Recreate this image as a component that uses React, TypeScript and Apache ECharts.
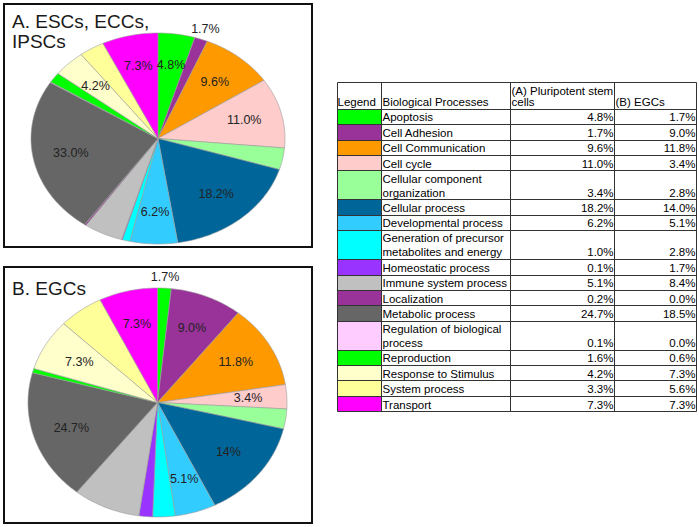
import React, { useEffect, useRef } from "react";
import * as echarts from "echarts";

// ---------- data ----------
const categories: string[] = [
  "Apoptosis",
  "Cell Adhesion",
  "Cell Communication",
  "Cell cycle",
  "Cellular component\norganization",
  "Cellular process",
  "Developmental process",
  "Generation of precursor\nmetabolites and energy",
  "Homeostatic process",
  "Immune system process",
  "Localization",
  "Metabolic process",
  "Regulation of biological\nprocess",
  "Reproduction",
  "Response to Stimulus",
  "System process",
  "Transport",
];

const valuesA: number[] = [4.8, 1.7, 9.6, 11.0, 3.4, 18.2, 6.2, 1.0, 0.1, 5.1, 0.2, 24.7, 0.1, 1.6, 4.2, 3.3, 7.3];
const valuesB: number[] = [1.7, 9.0, 11.8, 3.4, 2.8, 14.0, 5.1, 2.8, 1.7, 8.4, 0.0, 18.5, 0.0, 0.6, 7.3, 5.6, 7.3];

// labels printed on the pies (as in the original figure)
const pieLabelsA: string[] = ["4.8%", "1.7%", "9.6%", "11.0%", "", "18.2%", "6.2%", "", "", "", "", "33.0%", "", "", "4.2%", "", "7.3%"];
const pieLabelsB: string[] = ["1.7%", "9.0%", "11.8%", "3.4%", "", "14%", "5.1%", "", "", "", "", "24.7%", "", "", "7.3%", "", "7.3%"];

const headerLegend = "Legend";
const headerProcess = "Biological Processes";
const headerA = "(A) Pluripotent stem\ncells";
const headerB = "(B) EGCs";
const titleA = "A. ESCs, ECCs,\nIPSCs";
const titleB = "B. EGCs";

// ---------- styles ----------
const COLORS = [
  "#00ff00", "#993399", "#ff9900", "#ffcccc", "#99ff99", "#006699", "#33ccff", "#00ffff",
  "#9933ff", "#c0c0c0", "#993399", "#666666", "#ffccff", "#00ff00", "#ffffcc", "#ffff99", "#ff00ff",
];
const FONT = '"Liberation Sans", Arial, Helvetica, sans-serif';

const PIE_A = { cx: 158, cy: 138.5, rx: 127, ry: 105.5 };
const PIE_B = { cx: 157.5, cy: 402.5, rx: 129.5, ry: 114.5 };

function angles(values: number[]) {
  const total = values.reduce((s, v) => s + v, 0);
  let acc = 0;
  return values.map((v) => {
    const a0 = (acc / total) * Math.PI * 2;
    acc += v;
    return [a0, (acc / total) * Math.PI * 2];
  });
}

function sliceSeries(values: number[], geo: any) {
  const ang = angles(values);
  return {
    type: "custom",
    coordinateSystem: "none",
    silent: true,
    z: 2,
    data: values.map((v, i) => [i, v]),
    renderItem: (params: any) => {
      const i = params.dataIndex;
      const [a0, a1] = ang[i];
      if (a1 - a0 <= 0) return null;
      const pts: number[][] = [[geo.cx, geo.cy]];
      const n = Math.max(2, Math.ceil((a1 - a0) / (Math.PI / 180)));
      for (let k = 0; k <= n; k++) {
        const a = a0 + ((a1 - a0) * k) / n;
        pts.push([geo.cx + geo.rx * Math.sin(a), geo.cy - geo.ry * Math.cos(a)]);
      }
      return {
        type: "polygon",
        shape: { points: pts },
        style: { fill: COLORS[i], stroke: "#9a9a9a", lineWidth: 0.6 },
      };
    },
  };
}

function labelSeries(values: number[], labels: string[], geo: any) {
  const ang = angles(values);
  return {
    type: "custom",
    coordinateSystem: "none",
    silent: true,
    z: 5,
    data: values.map((v, i) => [i, v]),
    renderItem: (params: any) => {
      const i = params.dataIndex;
      const text = labels[i];
      if (!text) return null;
      const [a0, a1] = ang[i];
      const mid = (a0 + a1) / 2;
      const f = values[i] < 2 ? 1.1 : 0.7;
      return {
        type: "text",
        style: {
          text,
          x: geo.cx + geo.rx * f * Math.sin(mid),
          y: geo.cy - geo.ry * f * Math.cos(mid),
          align: "center",
          verticalAlign: "middle",
          fill: "#222",
          font: `12.5px ${FONT}`,
        },
      };
    },
  };
}

// ---------- table ----------
const COLX = [337, 381, 510, 614, 696];
const TABLE_TOP = 82;
const HEADER_H = 26.7;
const ROW_H = 15.4;
const ROW2_H = 29;
const LINE_GAP = 14;
const TFONT = `11.5px ${FONT}`;

function buildTable() {
  const bounds: number[] = [TABLE_TOP, TABLE_TOP + HEADER_H];
  categories.forEach((c) => bounds.push(bounds[bounds.length - 1] + (c.includes("\n") ? ROW2_H : ROW_H)));
  const px = (y: number) => Math.round(y) + 0.5;
  const els: any[] = [];
  const bottom = bounds[bounds.length - 1];

  // legend colour cells
  categories.forEach((_, i) => {
    const y0 = px(bounds[i + 1]);
    const y1 = px(bounds[i + 2]);
    els.push({ type: "rect", shape: { x: COLX[0] + 0.5, y: y0, width: COLX[1] - COLX[0], height: y1 - y0 }, style: { fill: COLORS[i] } });
  });
  // grid
  bounds.forEach((b) => {
    els.push({ type: "line", shape: { x1: COLX[0] + 0.5, y1: px(b), x2: COLX[4] + 0.5, y2: px(b) }, style: { stroke: "#333", lineWidth: 1 } });
  });
  COLX.forEach((x) => {
    els.push({ type: "line", shape: { x1: x + 0.5, y1: px(TABLE_TOP), x2: x + 0.5, y2: px(bottom) }, style: { stroke: "#333", lineWidth: 1 } });
  });

  const cellText = (text: string, x: number, rowBottom: number, align: string, gap = LINE_GAP) => {
    const lines = text.split("\n");
    lines.forEach((ln, j) => {
      const baseline = rowBottom - 2.7 - (lines.length - 1 - j) * gap;
      els.push({
        type: "text",
        z: 10,
        style: { text: ln, x, y: baseline - 4, align, verticalAlign: "middle", fill: "#000", font: TFONT },
      });
    });
  };

  const hb = bounds[1];
  cellText(headerLegend, COLX[0] + 0.5, hb, "left");
  cellText(headerProcess, COLX[1] + 1.5, hb, "left");
  cellText(headerA, COLX[2] + 1.5, hb, "left", 11);
  cellText(headerB, COLX[3] + 1.5, hb, "left");

  categories.forEach((c, i) => {
    const rb = bounds[i + 2];
    cellText(c, COLX[1] + 1.5, rb, "left");
    cellText(valuesA[i].toFixed(1) + "%", COLX[3] - 0.5, rb, "right");
    cellText(valuesB[i].toFixed(1) + "%", COLX[4] - 0.5, rb, "right");
  });
  return els;
}

function buildOption() {
  const graphics: any[] = [
    { type: "rect", shape: { x: 4, y: 4, width: 308, height: 243 }, style: { fill: "none", stroke: "#111", lineWidth: 2 } },
    { type: "rect", shape: { x: 4, y: 267, width: 308, height: 256 }, style: { fill: "none", stroke: "#111", lineWidth: 2 } },
    {
      type: "text",
      z: 10,
      style: { text: titleA, x: 12, y: 11.5, align: "left", verticalAlign: "top", lineHeight: 20, fill: "#1a1a1a", font: `19px ${FONT}` },
    },
    {
      type: "text",
      z: 10,
      style: { text: titleB, x: 12, y: 288.5, align: "left", verticalAlign: "middle", fill: "#1a1a1a", font: `19px ${FONT}` },
    },
    ...buildTable(),
  ];
  return {
    animation: false,
    backgroundColor: "#ffffff",
    graphic: graphics,
    series: [
      sliceSeries(valuesA, PIE_A),
      sliceSeries(valuesB, PIE_B),
      labelSeries(valuesA, pieLabelsA, PIE_A),
      labelSeries(valuesB, pieLabelsB, PIE_B),
    ],
  };
}

export default function App() {
  const ref = useRef<HTMLDivElement>(null);
  useEffect(() => {
    if (!ref.current) return;
    const chart = echarts.init(ref.current, null, { renderer: "svg" });
    chart.setOption(buildOption() as any);
    return () => chart.dispose();
  }, []);
  return (
    <div
      ref={ref}
      style={{ position: "fixed", left: 0, top: 0, width: 699, height: 527, background: "#fff" }}
    />
  );
}
